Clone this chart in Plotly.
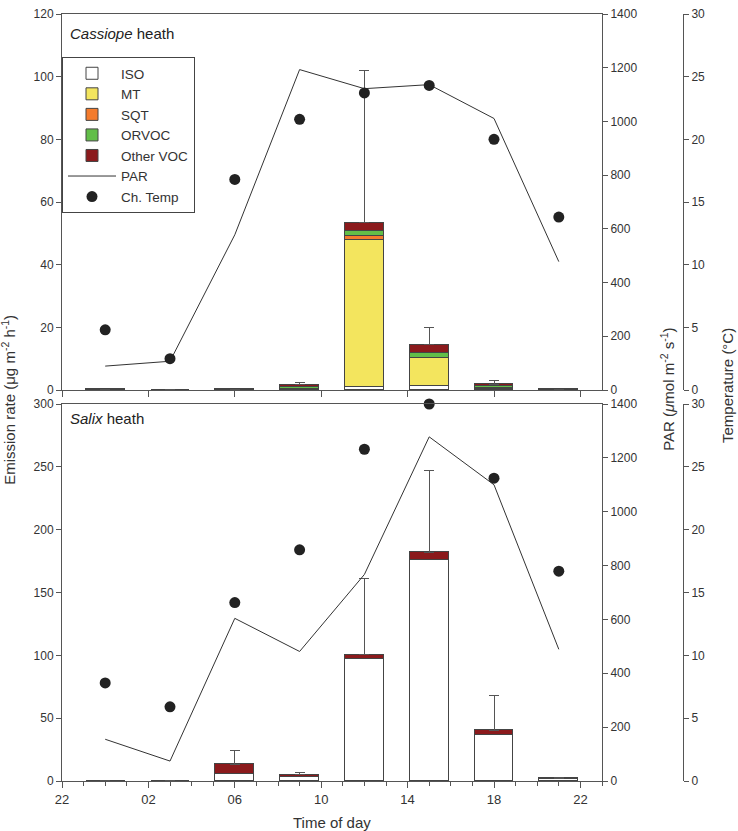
import plotly.graph_objects as go

# ---------------- data ----------------
times = [0, 3, 6, 9, 12, 15, 18, 21]          # time of day (h)
tick_hours = [22, 26, 30, 34, 38, 42, 46]
tick_text = ["22", "02", "06", "10", "14", "18", "22"]

# Cassiope heath (emission, ug m-2 h-1)
iso_c = [0.10, 0.05, 0.10, 0.15, 1.0, 1.2, 0.20, 0.10]
mt_c = [0.05, 0.02, 0.08, 0.25, 47.0, 8.9, 0.30, 0.05]
sqt_c = [0.00, 0.00, 0.02, 0.05, 1.3, 0.2, 0.05, 0.00]
orvoc_c = [0.02, 0.01, 0.05, 0.55, 1.3, 1.4, 0.60, 0.03]
other_c = [0.03, 0.02, 0.05, 0.70, 2.7, 2.8, 0.75, 0.05]
err_c = [0.0, 0.0, 0.0, 0.8, 48.7, 5.4, 1.2, 0.0]
par_c = [89, 107, 578, 1193, 1122, 1137, 1011, 478]
temp_c = [4.8, 2.5, 16.8, 21.6, 23.7, 24.3, 20.0, 13.8]

# Salix heath
iso_s = [0.2, 0.2, 5.3, 3.4, 96.8, 176.0, 37.0, 1.2]
mt_s = [0.0, 0.0, 0.0, 0.0, 0.0, 0.0, 0.0, 0.0]
sqt_s = [0.0, 0.0, 0.0, 0.0, 0.0, 0.0, 0.0, 0.0]
orvoc_s = [0.0, 0.0, 0.0, 0.0, 0.0, 0.0, 0.0, 0.0]
other_s = [0.1, 0.1, 8.0, 1.6, 3.7, 6.0, 3.5, 0.9]
err_s = [0.0, 0.0, 10.7, 2.1, 60.5, 65.0, 27.2, 0.8]
par_s = [155, 74, 604, 481, 767, 1278, 1100, 489]
temp_s = [7.8, 5.9, 14.2, 18.4, 26.4, 30.0, 24.1, 16.7]

names = ["ISO", "MT", "SQT", "ORVOC", "Other VOC"]
colors = ["#FFFFFF", "#F3E55E", "#F47B2C", "#62BE48", "#8B1A1C"]

# --------------- figure ---------------
FONT = "Liberation Sans, Arial, Helvetica, sans-serif"
AX = "#555555"
TXT = "#333333"
xs = [t + 24 for t in times]

fig = go.Figure()

def add_panel(xa, ya_em, ya_par, ya_temp, comps, err, par, temp, legend):
    for i, (nm, col, vals) in enumerate(zip(names, colors, comps)):
        kw = {}
        if i == len(names) - 1:
            kw["error_y"] = dict(type="data", symmetric=False, array=err,
                                 arrayminus=[0] * len(err), color=AX,
                                 thickness=1, width=5)
        fig.add_trace(go.Bar(x=xs, y=vals, name=nm, width=1.8,
                             marker=dict(color=col, line=dict(color="#444444", width=1)),
                             xaxis=xa, yaxis=ya_em, showlegend=legend,
                             legendrank=i + 1, **kw))
    fig.add_trace(go.Scatter(x=xs, y=par, mode="lines", name="PAR",
                             line=dict(color="#333333", width=1),
                             xaxis=xa, yaxis=ya_par, showlegend=legend, legendrank=6))
    fig.add_trace(go.Scatter(x=xs, y=temp, mode="markers", name="Ch. Temp",
                             marker=dict(color="#222222", size=11),
                             xaxis=xa, yaxis=ya_temp, showlegend=legend,
                             cliponaxis=False, legendrank=7))

add_panel("x", "y", "y2", "y3",
          [iso_s, mt_s, sqt_s, orvoc_s, other_s], err_s, par_s, temp_s, False)
add_panel("x2", "y4", "y5", "y6",
          [iso_c, mt_c, sqt_c, orvoc_c, other_c], err_c, par_c, temp_c, True)

xdom = [0, 540 / 621]
bot_dom = [0, 377 / 767]
top_dom = [391 / 767, 1]
tickf = dict(family=FONT, size=12, color=TXT)

common_x = dict(range=[22, 47], domain=xdom, showgrid=False, zeroline=False,
                showline=True, linecolor=AX, linewidth=1, mirror=True,
                ticks="outside", ticklen=6, tickcolor=AX, automargin=False,
                tickmode="array", tickvals=tick_hours, ticktext=tick_text,
                tickfont=dict(family=FONT, size=13, color=TXT))

def yax(dom, anchor, rng, dt, **extra):
    d = dict(domain=dom, anchor=anchor, range=rng, dtick=dt, showgrid=False,
             zeroline=False, showline=True, linecolor=AX, ticks="outside",
             ticklen=5, tickcolor=AX, tickfont=tickf, automargin=False)
    d.update(extra)
    return d

fig.update_layout(
    xaxis=dict(**common_x, anchor="y",
               minor=dict(tickvals=list(range(22, 48)), ticks="outside",
                          ticklen=4, tickcolor=AX)),
    xaxis2=dict(**common_x, anchor="y4", matches="x", showticklabels=False),
    yaxis=yax(bot_dom, "x", [0, 300], 50),
    yaxis2=yax(bot_dom, "x", [0, 1400], 200, overlaying="y", side="right"),
    yaxis3=yax(bot_dom, "free", [0, 30], 5, overlaying="y", side="right", position=1),
    yaxis4=yax(top_dom, "x2", [0, 120], 20),
    yaxis5=yax(top_dom, "x2", [0, 1400], 200, overlaying="y4", side="right"),
    yaxis6=yax(top_dom, "free", [0, 30], 5, overlaying="y4", side="right", position=1),
    barmode="stack",
    bargap=0,
    width=738, height=831,
    margin=dict(l=62, r=55, t=14, b=50),
    paper_bgcolor="white", plot_bgcolor="white",
    font=dict(family=FONT, size=13, color=TXT),
    showlegend=True,
    legend=dict(x=0.0, y=724 / 767, xanchor="left", yanchor="top",
                bordercolor="#444444", borderwidth=1, bgcolor="white",
                font=dict(family=FONT, size=13.5, color=TXT),
                traceorder="normal", tracegroupgap=0,
                itemwidth=48),
    annotations=[
        dict(text="<i>Cassiope</i> heath", xref="paper", yref="paper",
             x=6 / 621, y=747 / 767, xanchor="left", yanchor="middle",
             showarrow=False, font=dict(family=FONT, size=15, color="#222222")),
        dict(text="<i>Salix</i> heath", xref="paper", yref="paper",
             x=6 / 621, y=363 / 767, xanchor="left", yanchor="middle",
             showarrow=False, font=dict(family=FONT, size=15, color="#222222")),
        dict(text="Time of day", xref="paper", yref="paper",
             x=270 / 621, y=-41 / 767, xanchor="center", yanchor="middle",
             showarrow=False, font=dict(family=FONT, size=15, color=TXT)),
        dict(text="Emission rate (μg m<sup>-2</sup> h<sup>-1</sup>)", xref="paper",
             yref="paper", x=-53 / 621, y=0.497, textangle=-90,
             xanchor="center", yanchor="middle", showarrow=False,
             font=dict(family=FONT, size=15, color=TXT)),
        dict(text="PAR (<i>μ</i>mol m<sup>-2</sup> s<sup>-1</sup>)", xref="paper",
             yref="paper", x=606 / 621, y=0.51, textangle=-90,
             xanchor="center", yanchor="middle", showarrow=False,
             font=dict(family=FONT, size=15, color=TXT)),
        dict(text="Temperature (°C)", xref="paper", yref="paper",
             x=666 / 621, y=0.515, textangle=-90,
             xanchor="center", yanchor="middle", showarrow=False,
             font=dict(family=FONT, size=15, color=TXT)),
    ],
)

fig.write_html("out.html")
